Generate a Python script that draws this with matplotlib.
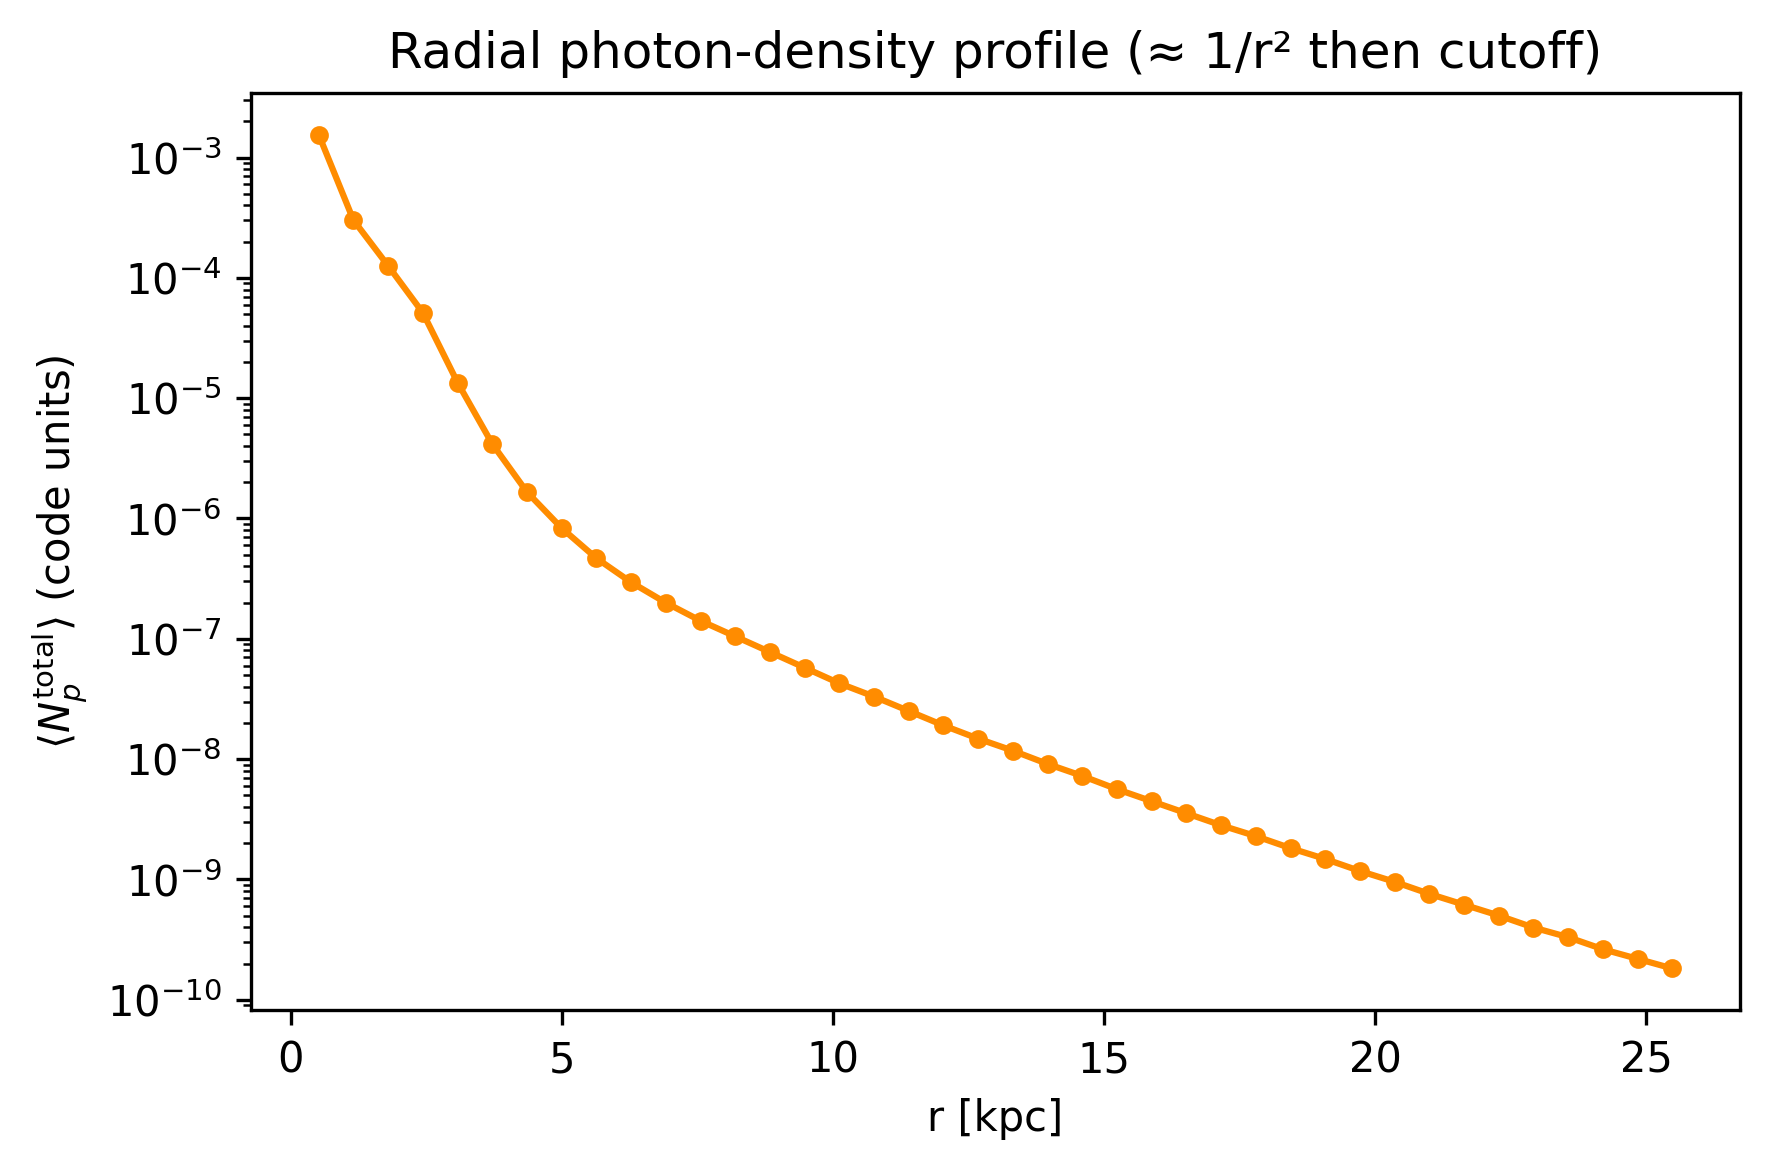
import numpy as np
import matplotlib
matplotlib.use("Agg")
import matplotlib.pyplot as plt

r_kpc = [0.52 + 0.64 * i for i in range(40)]
log_density = [-2.81, -3.52, -3.90, -4.29, -4.87, -5.38, -5.78, -6.08, -6.33, -6.53,
               -6.70, -6.85, -6.98, -7.11, -7.24, -7.37, -7.48, -7.60, -7.72, -7.83,
               -7.93, -8.04, -8.14, -8.25, -8.35, -8.45, -8.55, -8.64, -8.74, -8.83,
               -8.93, -9.02, -9.12, -9.21, -9.30, -9.40, -9.48, -9.58, -9.66, -9.74]
density = [10 ** v for v in log_density]

fig, ax = plt.subplots(figsize=(6, 4), dpi=300)
ax.plot(r_kpc, density, marker='o', markersize=3.5, linewidth=1.5, color='darkorange')
ax.set_yscale('log')
ax.set_xlabel('r [kpc]')
ax.set_ylabel(r'$\langle N_p^{\rm total}\rangle$ (code units)')
ax.set_title('Radial photon-density profile (≈ 1/r² then cutoff)')
fig.tight_layout()
fig.savefig('out.png', dpi=300, bbox_inches='tight')
